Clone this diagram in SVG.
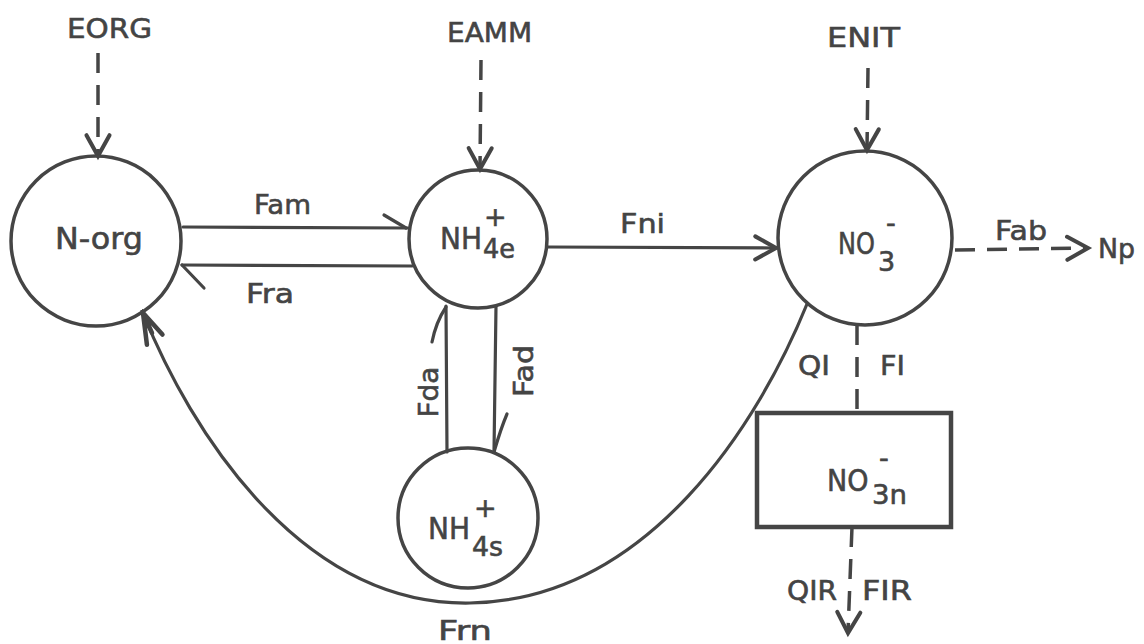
<svg xmlns="http://www.w3.org/2000/svg" width="1144" height="644" viewBox="0 0 1144 644">
<style>
  .node { fill: none; stroke: #454545; stroke-width: 3.5; }
  .box { fill: none; stroke: #454545; stroke-width: 4.5; }
  .ln { fill: none; stroke: #454545; stroke-width: 3.2; stroke-linecap: round; }
  .dash { fill: none; stroke: #454545; stroke-width: 3.5; stroke-dasharray: 20 12; }
  .t { font-family: "DejaVu Sans", "Liberation Sans", sans-serif; fill: #444; stroke: #444; stroke-width: 0.6; font-size: 27px; }
  .big { font-size: 30px; }
  .sub { font-size: 27px; }
</style>
<defs>
  <marker id="arr" markerUnits="userSpaceOnUse" markerWidth="30" markerHeight="30" viewBox="-22 -12 26 24" refX="0" refY="0" orient="auto">
    <path d="M-18,-10 L0,0 L-18,10" fill="none" stroke="#454545" stroke-width="3.5" stroke-linejoin="miter" stroke-linecap="round"/>
  </marker>
  <marker id="arrf" markerUnits="userSpaceOnUse" markerWidth="40" markerHeight="40" viewBox="-40 -20 44 40" refX="0" refY="0" orient="auto">
    <path d="M-34,-9 L0,0 L-30,11 M0,0 L-24,1" fill="none" stroke="#454545" stroke-width="5" stroke-linecap="round"/>
  </marker>
</defs>
<rect width="1144" height="644" fill="#ffffff"/>

<g id="connectors">
  <line class="dash" x1="98" y1="53" x2="98" y2="156" marker-end="url(#arr)"/>
  <line class="dash" x1="481" y1="60" x2="480" y2="169" marker-end="url(#arr)"/>
  <line class="dash" x1="868" y1="68" x2="867" y2="150" stroke-dasharray="20 14" marker-end="url(#arr)"/>
  <path class="ln" d="M183,227 L408,228"/>
  <path class="ln" d="M384,215 L406,228" stroke-width="4"/>
  <path class="ln" d="M412,266 L182,265"/>
  <path class="ln" d="M182,265 L204,288" stroke-width="4"/>
  <line class="ln" x1="548" y1="247" x2="776" y2="248" marker-end="url(#arr)"/>
  <path class="ln" d="M447,452 L446,306"/>
  <path class="ln" d="M446,307 Q436,322 432,342" stroke-width="3.5"/>
  <path class="ln" d="M496,306 L494,452"/>
  <path class="ln" d="M494,452 Q501,428 507,414" stroke-width="3.5"/>
  <line class="dash" x1="955" y1="250" x2="1088" y2="248" stroke-dasharray="14 13" marker-end="url(#arr)"/>
  <line class="dash" x1="857" y1="325" x2="857" y2="413" stroke-dasharray="20 14"/>
  <line class="dash" x1="852" y1="527" x2="848" y2="633" stroke-dasharray="24 11" marker-end="url(#arr)"/>
  <path class="ln" d="M807,304 C760,420 650,600 470,603 C300,606 190,430 143,313" marker-end="url(#arrf)"/>
</g>

<g id="node-norg">
  <circle class="node" cx="96" cy="241" r="85"/>
  <text class="t big" x="55" y="249" textLength="88" lengthAdjust="spacingAndGlyphs">N-org</text>
</g>
<g id="node-nh4e">
  <circle class="node" cx="478" cy="239" r="69"/>
  <text class="t big" x="440" y="249" textLength="42" lengthAdjust="spacingAndGlyphs">NH</text>
  <text class="t sub" x="483" y="258" textLength="32" lengthAdjust="spacingAndGlyphs">4e</text>
  <text class="t" x="484" y="226" font-size="20">+</text>
</g>
<g id="node-nh4s">
  <circle class="node" cx="468" cy="518" r="70"/>
  <text class="t big" x="428" y="539" textLength="42" lengthAdjust="spacingAndGlyphs">NH</text>
  <text class="t sub" x="472" y="556" textLength="31" lengthAdjust="spacingAndGlyphs">4s</text>
  <text class="t" x="474" y="517" font-size="20">+</text>
</g>
<g id="node-no3">
  <circle class="node" cx="865" cy="238" r="87"/>
  <text class="t big" transform="translate(838,254) scale(0.8,1)">NO</text>
  <text class="t sub" x="878" y="271">3</text>
  <text class="t" x="886" y="232" font-size="24">-</text>
</g>
<g id="node-no3n">
  <rect class="box" x="757" y="413" width="194" height="114"/>
  <text class="t big" transform="translate(827,491) scale(0.9,1)">NO</text>
  <text class="t sub" x="872" y="504" textLength="35" lengthAdjust="spacingAndGlyphs">3n</text>
  <text class="t" x="879" y="467" font-size="24">-</text>
</g>
<g id="node-eorg"><text class="t" x="67" y="38" textLength="85" lengthAdjust="spacingAndGlyphs">EORG</text></g>
<g id="node-eamm"><text class="t" x="447" y="42" textLength="85" lengthAdjust="spacingAndGlyphs">EAMM</text></g>
<g id="node-enit"><text class="t" x="827" y="47" textLength="73" lengthAdjust="spacingAndGlyphs">ENIT</text></g>
<g id="node-np"><text class="t sub" x="1098" y="258" textLength="37" lengthAdjust="spacingAndGlyphs">Np</text></g>

<g id="labels">
  <text class="t" x="254" y="214" textLength="57" lengthAdjust="spacingAndGlyphs">Fam</text>
  <text class="t" x="246" y="303" textLength="48" lengthAdjust="spacingAndGlyphs">Fra</text>
  <text class="t" x="620" y="233" textLength="45" lengthAdjust="spacingAndGlyphs">Fni</text>
  <text class="t" x="995" y="240" textLength="52" lengthAdjust="spacingAndGlyphs">Fab</text>
  <text class="t" transform="translate(438,392) rotate(-90)" text-anchor="middle" textLength="51" lengthAdjust="spacingAndGlyphs">Fda</text>
  <text class="t" transform="translate(533,371) rotate(-90)" text-anchor="middle" textLength="52" lengthAdjust="spacingAndGlyphs">Fad</text>
  <text class="t" x="798" y="375" textLength="32" lengthAdjust="spacingAndGlyphs">QI</text>
  <text class="t" x="880" y="375" textLength="25" lengthAdjust="spacingAndGlyphs">FI</text>
  <text class="t" x="787" y="600" textLength="50" lengthAdjust="spacingAndGlyphs">QIR</text>
  <text class="t" x="862" y="600" textLength="50" lengthAdjust="spacingAndGlyphs">FIR</text>
  <text class="t" x="438" y="640" textLength="54" lengthAdjust="spacingAndGlyphs">Frn</text>
</g>
</svg>
